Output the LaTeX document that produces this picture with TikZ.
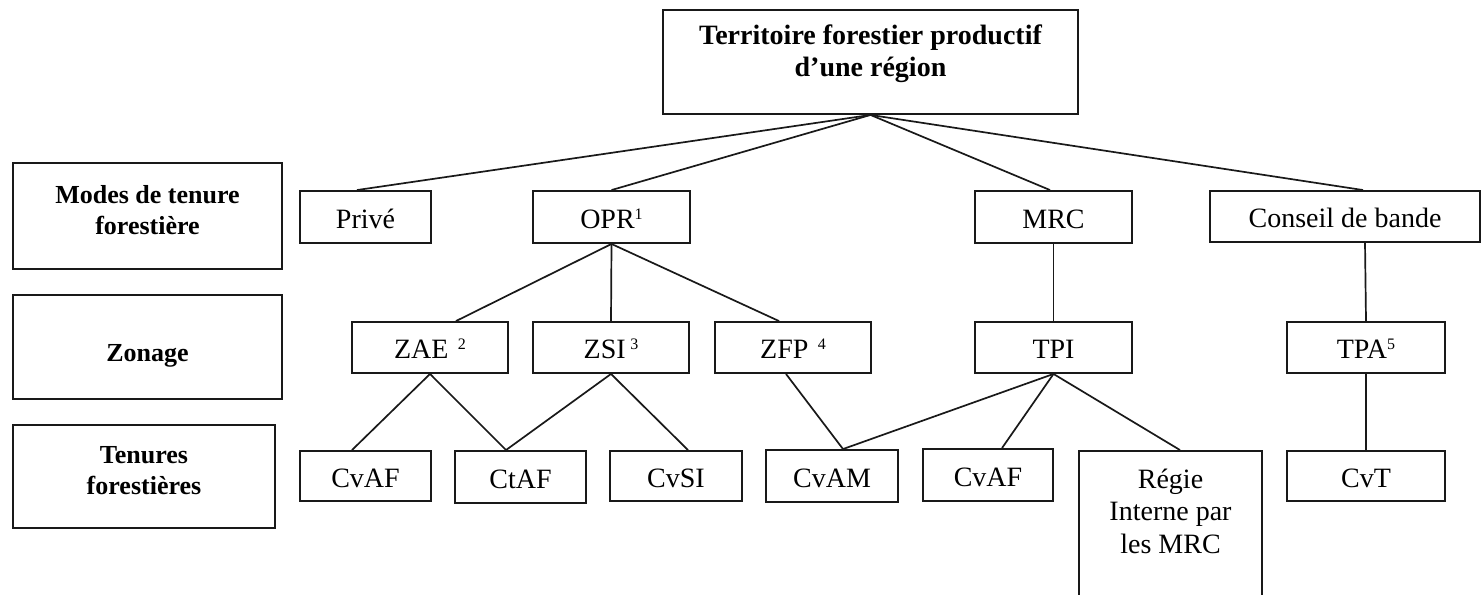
\documentclass[tikz,border=0pt]{standalone}
\usepackage{fontspec}
\setmainfont{Liberation Serif}
% small raised note number
\newcommand\notenum[1]{\raisebox{9pt}{\fontsize{16}{16}\selectfont #1}}
\begin{document}
\begin{tikzpicture}[x=1pt,y=-1pt,
  frame/.style={draw=black!90, line width=1.9pt, rectangle, inner sep=0pt, align=center},
  box/.style={frame, font=\fontsize{28}{33}\selectfont, text height=22pt, text depth=0pt},
  headtxt/.style={inner sep=0pt, align=center, font=\fontsize{26}{31}\selectfont\bfseries},
  link/.style={draw=black!90, line width=1.7pt},
  txt/.style={inner sep=0pt, align=center}]
\clip (0,0) rectangle (1482,594);
\fill[white] (0,0) rectangle (1482,594);

% root box and its title
\node[frame, minimum width=415pt, minimum height=104pt] (top) at (870.5,62) {};
\node[txt, font=\fontsize{28}{32}\selectfont\bfseries] (toptitle) at (870.5,54)
  {Territoire forestier productif\\d’une région};

% row headings on the left
\node[frame, minimum width=269pt, minimum height=106pt] (modes) at (147.5,216) {};
\node[headtxt] (modestxt) at (147.5,210) {Modes de tenure\\forestière};
\node[frame, minimum width=269pt, minimum height=104pt] (zonage) at (147.5,347) {};
\node[headtxt] (zonagetxt) at (147.5,356) {Zonage};
\node[frame, minimum width=262pt, minimum height=103pt] (tenures) at (144,476.5) {};
\node[headtxt] (tenurestxt) at (144,471) {Tenures\\forestières};

% first level: tenure modes
\node[box, minimum width=131pt, minimum height=52pt] (prive) at (365.5,217) {Privé};
\node[box, minimum width=157pt, minimum height=52pt] (opr) at (611.5,217) {OPR\notenum{1}};
\node[box, minimum width=157pt, minimum height=52pt] (mrc) at (1053.5,217) {MRC};
\node[box, minimum width=270pt, minimum height=51pt] (conseil) at (1345,216.5) {Conseil de bande};

% second level: zoning
\node[box, minimum width=156pt, minimum height=51pt] (zae) at (430,347.5) {ZAE\,\,\notenum{2}};
\node[box, minimum width=156pt, minimum height=51pt] (zsi) at (611,347.5) {ZSI\,\notenum{3}};
\node[box, minimum width=156pt, minimum height=51pt] (zfp) at (793,347.5) {ZFP\,\,\notenum{4}};
\node[box, minimum width=157pt, minimum height=51pt] (tpi) at (1053.5,347.5) {TPI};
\node[box, minimum width=158pt, minimum height=51pt] (tpa) at (1366,347.5) {TPA\notenum{5}};

% third level: forest tenures
\node[box, minimum width=131pt, minimum height=50pt] (cvaf1) at (365.5,476) {CvAF};
\node[box, minimum width=131pt, minimum height=52pt] (ctaf) at (520.5,477) {CtAF};
\node[box, minimum width=132pt, minimum height=50pt] (cvsi) at (676,476) {CvSI};
\node[box, minimum width=132pt, minimum height=52pt] (cvam) at (832,476) {CvAM};
\node[box, minimum width=130pt, minimum height=52pt] (cvaf2) at (988,475) {CvAF};
\node[frame, minimum width=183pt, minimum height=150pt] (regie) at (1170.5,526) {};
\node[txt, font=\fontsize{28}{32.5}\selectfont] (regietxt) at (1170.5,511) {Régie\\Interne par\\les MRC};
\node[box, minimum width=158pt, minimum height=50pt] (cvt) at (1366,476) {CvT};

% connectors from the root
\draw[link] (top.south) -- ([xshift=-8.5pt]prive.north);
\draw[link] (top.south) -- (opr.north);
\draw[link] (top.south) -- ([xshift=-3.5pt]mrc.north);
\draw[link] (top.south) -- ([xshift=18pt]conseil.north);

% connectors to the zoning level
\draw[link] (opr.south) -- ([xshift=26pt]zae.north);
\draw[link] (opr.south) -- (zsi.north);
\draw[link] (opr.south) -- ([xshift=-14pt]zfp.north);
\draw[link] (mrc.south) -- (tpi.north);
\draw[link] ([xshift=20pt]conseil.south) -- (tpa.north);

% connectors to the tenure level
\draw[link] (zae.south) -- ([xshift=-13.5pt]cvaf1.north);
\draw[link] (zae.south) -- ([xshift=-14.5pt]ctaf.north);
\draw[link] (zsi.south) -- ([xshift=-14.5pt]ctaf.north);
\draw[link] (zsi.south) -- ([xshift=12pt]cvsi.north);
\draw[link] ([xshift=-7pt]zfp.south) -- ([xshift=11pt]cvam.north);
\draw[link] (tpi.south) -- ([xshift=11pt]cvam.north);
\draw[link] (tpi.south) -- ([xshift=14pt]cvaf2.north);
\draw[link] (tpi.south) -- ([xshift=9.5pt]regie.north);
\draw[link] (tpa.south) -- (cvt.north);
\end{tikzpicture}
\end{document}
